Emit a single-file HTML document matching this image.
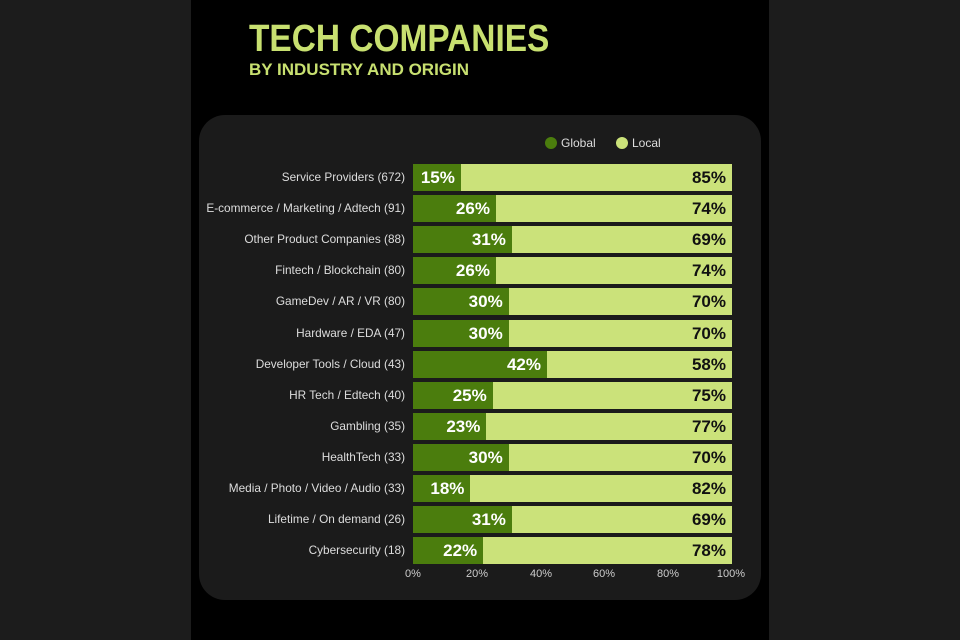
<!DOCTYPE html>
<html><head><style>
body{margin:0;width:960px;height:640px;background:#1c1c1c;font-family:"Liberation Sans",sans-serif;position:relative;overflow:hidden}
.panel{position:absolute;left:191px;top:0;width:578px;height:640px;background:#000}
.card{position:absolute;left:199px;top:115px;width:562px;height:485px;background:#1b1b1b;border-radius:26px}
.t1{position:absolute;left:249px;top:18px;font-size:38px;font-weight:bold;color:#c8e070;transform:scaleX(0.88);transform-origin:0 0;white-space:nowrap}
.t2{position:absolute;left:249px;top:61px;font-size:16.5px;font-weight:bold;color:#c8e070;transform:scaleX(1.03);transform-origin:0 0;white-space:nowrap}
.row{position:absolute;left:0;width:960px;height:27px}
.lab{position:absolute;right:555px;top:0;line-height:27px;font-size:11.8px;color:#ddd;white-space:nowrap}
.g{position:absolute;left:413px;top:0;height:27px;background:#4b7d0d}
.l{position:absolute;top:0;height:27px;background:#cbe27a;right:228px}
.gv{position:absolute;right:6px;top:0;line-height:27px;font-size:17px;font-weight:bold;color:#fff}
.lv{position:absolute;right:6px;top:0;line-height:27px;font-size:17px;font-weight:bold;color:#111}
.tick{position:absolute;top:568px;font-size:11px;color:#ccc;transform:translateX(-50%)}
.dot{position:absolute;top:137px;width:12px;height:12px;border-radius:50%}
.leg{position:absolute;top:136px;font-size:12px;color:#ddd}
</style></head><body>
<div class="panel"></div>
<div class="card"></div>
<div class="t1">TECH COMPANIES</div>
<div class="t2">BY INDUSTRY AND ORIGIN</div>
<div class="dot" style="left:545px;background:#4b7d0d"></div><div class="leg" style="left:561px">Global</div>
<div class="dot" style="left:616px;background:#cbe27a"></div><div class="leg" style="left:632px">Local</div>
<div id="rows"></div>
<div class="tick" style="left:413px">0%</div>
<div class="tick" style="left:477px">20%</div>
<div class="tick" style="left:541px">40%</div>
<div class="tick" style="left:604px">60%</div>
<div class="tick" style="left:668px">80%</div>
<div class="tick" style="left:731px">100%</div>
<script>
var d=[["Service Providers (672)",15],["E-commerce / Marketing / Adtech (91)",26],["Other Product Companies (88)",31],["Fintech / Blockchain (80)",26],["GameDev / AR / VR (80)",30],["Hardware / EDA (47)",30],["Developer Tools / Cloud (43)",42],["HR Tech / Edtech (40)",25],["Gambling (35)",23],["HealthTech (33)",30],["Media / Photo / Video / Audio (33)",18],["Lifetime / On demand (26)",31],["Cybersecurity (18)",22]];
var h="";d.forEach(function(r,i){var t=164+i*31.1,w=r[1]*3.19;
h+='<div class="row" style="top:'+t.toFixed(1)+'px"><div class="lab">'+r[0]+'</div><div class="g" style="width:'+w+'px"><span class="gv">'+r[1]+'%</span></div><div class="l" style="left:'+(413+w)+'px"><span class="lv">'+(100-r[1])+'%</span></div></div>';});
document.getElementById("rows").innerHTML=h;
</script>
</body></html>
